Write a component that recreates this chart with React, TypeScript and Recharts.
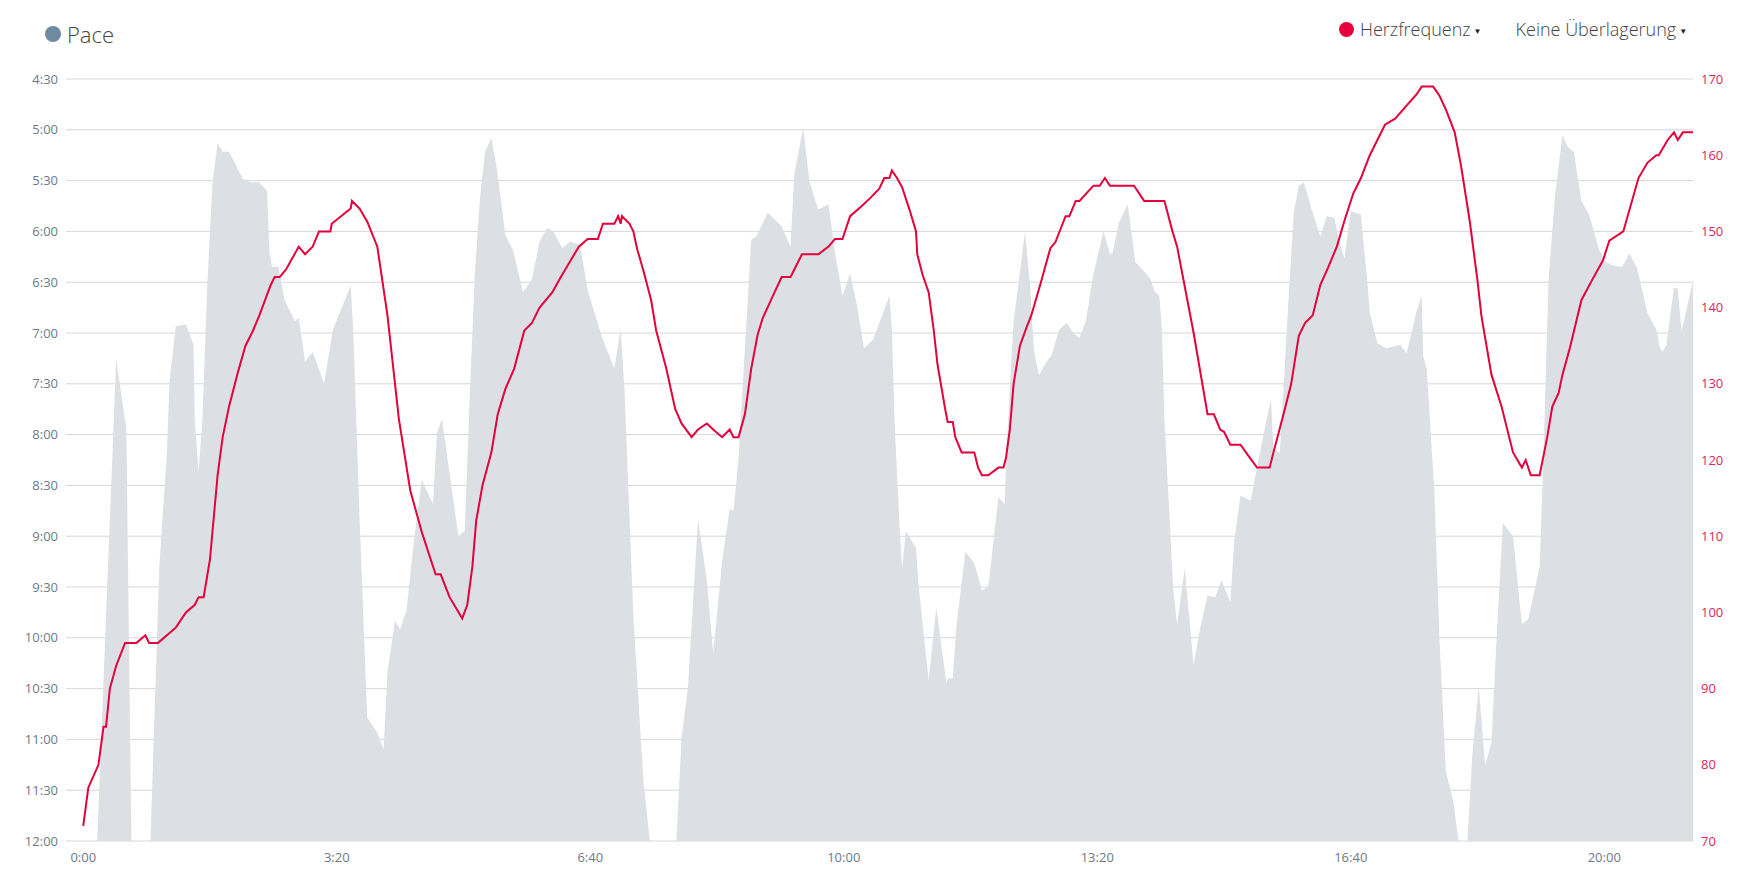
import React from "react";
import {
  ComposedChart,
  Area,
  Line,
  XAxis,
  YAxis,
  CartesianGrid,
} from "recharts";

// Pace (seconds per km) sampled at elapsed seconds
const paceTimes = [
  0, 11, 26, 33, 34, 38, 53, 60, 66, 68, 73, 81, 87, 88, 91, 94, 98, 102, 106, 110, 115, 126, 132, 139, 145, 147, 149, 154, 159, 167, 170, 175, 181, 190, 197, 211, 213, 218, 224, 232, 237, 240, 246, 250, 255, 261, 267, 276, 279, 283, 296, 301, 305, 309, 313, 317,
  322, 326, 333, 339, 347, 354, 360, 366, 371, 378, 384, 392, 398, 410, 419, 424, 427, 434, 442, 447, 468, 472, 477, 485, 492, 497, 504, 510, 513, 517, 521, 527, 531, 540, 551, 558, 561, 568, 573, 580, 588, 593, 599, 605, 610, 616, 623, 636,
  638, 640, 644, 646, 649, 657, 659, 667, 673, 681, 682, 686, 689, 696, 703, 709, 714, 722, 727, 728, 732, 734, 739, 743, 747, 750, 754, 760, 764, 770, 776, 781, 786, 791, 797, 805, 810, 812, 817, 824, 830, 835, 842, 845, 849, 851, 853, 856, 860, 863, 869, 876, 881, 887, 893, 898, 905, 908, 913, 921, 929, 937, 939, 944, 947, 951, 955,
  959, 963, 970, 976, 981, 987, 991, 995, 1000, 1008, 1013, 1015, 1021, 1028, 1039, 1044, 1052, 1056, 1057, 1060, 1066, 1070, 1075, 1081, 1085, 1092, 1096, 1101, 1106, 1111, 1115, 1120, 1128, 1135, 1140, 1149, 1152, 1156, 1161, 1167, 1171, 1176, 1182, 1188, 1196, 1201, 1206, 1214, 1220, 1226, 1234, 1241, 1244, 1246, 1249, 1255, 1258, 1261, 1270,
];
const paceValues = [
  720, 720, 435, 472, 475, 720, 720, 558, 491, 449, 416, 415, 427, 471, 502, 471, 389, 331, 308, 313, 313, 329, 331, 331, 336, 373, 381, 381, 401, 413, 411, 437, 431, 450, 418, 392, 418, 529, 647, 656, 666, 620, 590, 595, 584, 542, 507, 521, 479, 471, 540, 537, 456, 384, 340, 313,
  305, 321, 362, 371, 396, 388, 366, 358, 360, 370, 366, 368, 395, 424, 441, 418, 453, 587, 685, 720, 720, 659, 630, 530, 566, 609, 555, 524, 525, 494, 442, 365, 363, 349, 357, 369, 326, 299, 331, 347, 344, 372, 398, 385, 402, 429, 424, 398,
  418, 471, 534, 559, 537, 547, 569, 625, 582, 627, 624, 624, 592, 549, 556, 572, 570, 517, 521, 497, 439, 413, 384, 360, 392, 430, 445, 437, 433, 418, 414, 420, 423, 413, 385, 360, 373, 373, 355, 344, 378, 382, 388, 395, 398, 418, 471, 514, 572, 592, 559, 616, 595, 575, 576, 566, 579, 543, 516, 519, 488, 459, 488, 491, 452, 398, 349,
  333, 331, 349, 363, 351, 352, 366, 376, 348, 350, 389, 408, 426, 429, 427, 432, 407, 398, 433, 442, 514, 601, 679, 697, 720, 720, 668, 629, 675, 662, 601, 532, 540, 592, 589, 558, 494, 389, 340, 303, 310, 313, 342, 350, 371, 378, 380, 381, 373, 382, 408, 418, 429, 431, 427, 393, 394, 419, 389,
];

// Heart rate (bpm) sampled at elapsed seconds
const hrTimes = [
  0, 4, 12, 16, 18, 21, 26, 33, 42, 49, 52, 59, 73, 81, 88, 91, 95, 100, 106, 110, 115, 122, 128, 134, 139, 148, 151, 155, 160, 170, 175, 181, 186, 195, 196, 211, 212, 218, 224, 232, 240, 249, 258, 267, 274, 278, 282, 289, 294, 299, 303, 307, 310, 315,
  322, 327, 333, 340, 348, 354, 360, 370, 376, 391, 398, 406, 410, 419, 422, 424, 425, 431, 434, 437, 442, 448, 452, 460, 467, 472, 480, 485, 492, 497, 504, 510, 513, 517, 522, 527, 532, 536, 544, 551, 558, 561, 567, 580, 588, 593, 599, 605, 614, 621, 628,
  632, 636, 638, 642, 646, 652, 657, 658, 662, 667, 671, 674, 680, 682, 686, 688, 693, 703, 706, 709, 714, 722, 726, 728, 731, 734, 739, 744, 748, 755, 763, 767, 775, 778, 783, 786, 797, 802, 806, 810, 829, 837, 853, 859, 863, 876, 887, 892, 897, 900, 905, 913, 919, 926, 936, 939, 943, 948, 953,
  959, 964, 970, 976, 982, 989, 995, 1002, 1008, 1015, 1027, 1035, 1044, 1052, 1056, 1065, 1070, 1075, 1082, 1087, 1094, 1100, 1103, 1105, 1111, 1119, 1128, 1135, 1138, 1142, 1149, 1155, 1159, 1164, 1167, 1173, 1182, 1191, 1199, 1204, 1215, 1227, 1234, 1241, 1243, 1250, 1255, 1258, 1262, 1270,
];
const hrValues = [
  72, 77, 80, 85, 85, 90, 93, 96, 96, 97, 96, 96, 98, 100, 101, 102, 102, 107, 118, 123, 127, 131.5, 135, 137, 139, 143, 144, 144, 145, 148, 147, 148, 150, 150, 151, 153, 154, 153, 151.3, 148, 139, 125.4, 116, 110.6, 107, 105, 105, 102, 100.6, 99.2, 101, 106, 112, 116.7,
  121, 126, 129.3, 132, 137, 138, 140, 142, 143.8, 148, 149, 149, 151, 151, 152, 151, 152, 151, 150, 147.7, 144.8, 141, 137, 132, 126.7, 124.8, 123, 124, 124.8, 124, 123, 124, 123, 123, 126, 132, 136.4, 138.6, 141.5, 144, 144, 145, 147, 147, 148, 149, 149, 152, 153.3, 154.4, 155.6,
  157, 157, 158, 157, 155.8, 152.8, 150, 147, 144.4, 142, 137, 132.5, 126.7, 125, 125, 123, 121, 121, 119, 118, 118, 119, 119, 120.3, 124, 130, 135, 137.3, 139, 143, 147.8, 148.6, 152, 152, 154, 154, 156, 156, 157, 156, 156, 154, 154, 150.2, 148, 136.7, 126, 126, 124, 123.7, 122, 122, 120.6, 119, 119, 121, 123.5, 126.7, 130,
  136.3, 138, 139, 143, 145.2, 148, 151.4, 155, 157, 160, 164, 164.8, 166.5, 168, 169, 169, 167.8, 166, 163, 158.6, 151.2, 143.5, 139, 137, 131.2, 127, 121, 119, 120, 118, 118, 123, 127, 128.8, 131.2, 134.8, 141, 143.8, 146.2, 148.8, 150, 157, 159, 160, 160, 162, 163, 162, 163, 163,
];

const timeTicks = [0, 200, 400, 600, 800, 1000, 1200];
const paceTicks = [270, 300, 330, 360, 390, 420, 450, 480, 510, 540, 570, 600, 630, 660, 690, 720];
const hrTicks = [70, 80, 90, 100, 110, 120, 130, 140, 150, 160, 170];

const paceData = paceTimes.map((t, i) => ({ t, pace: paceValues[i] }));
const hrData = hrTimes.map((t, i) => ({ t, hr: hrValues[i] }));

const fmt = (v: number) => {
  const m = Math.floor(v / 60);
  const s = Math.round(v - m * 60);
  return `${m}:${s < 10 ? "0" : ""}${s}`;
};

const FONT = "'Open Sans', 'Noto Sans', sans-serif";

export default function App() {
  return (
    <div
      style={{
        position: "absolute",
        left: 0,
        top: 0,
        width: 1739,
        height: 875,
        background: "#fff",
        fontFamily: FONT,
        overflow: "hidden",
      }}
    >
      {/* Left legend */}
      <div style={{ position: "absolute", left: 45, top: 16, display: "flex", alignItems: "center" }}>
        <span style={{ display: "inline-block", width: 16, height: 16, borderRadius: 8, background: "#6e8aa0" }} />
        <span style={{ marginLeft: 6, fontSize: 22, fontWeight: 300, color: "#444", lineHeight: "36px" }}>Pace</span>
      </div>
      {/* Right legend */}
      <div style={{ position: "absolute", left: 1339, top: 14, display: "flex", alignItems: "center" }}>
        <span style={{ display: "inline-block", width: 15, height: 15, borderRadius: 8, background: "#e8003d" }} />
        <span style={{ marginLeft: 6, fontSize: 18, fontWeight: 300, color: "#444", lineHeight: "30px" }}>Herzfrequenz</span>
        <span style={{ marginLeft: 3, fontSize: 8, color: "#222", position: "relative", top: 1 }}>▼</span>
        <span style={{ marginLeft: 34, fontSize: 18, fontWeight: 300, color: "#444", lineHeight: "30px" }}>Keine Überlagerung</span>
        <span style={{ marginLeft: 3, fontSize: 8, color: "#222", position: "relative", top: 1 }}>▼</span>
      </div>
      <div style={{ position: "absolute", left: 0, top: 0 }}>
        <ComposedChart width={1739} height={875} margin={{ top: 79, right: 0, bottom: 0, left: 0 }}>
          <CartesianGrid vertical={false} yAxisId="pace" stroke="#d3d7db" strokeWidth={1} />
          <XAxis
            type="number"
            dataKey="t"
            domain={[-13.6, 1270]}
            allowDataOverflow
            ticks={timeTicks}
            tickFormatter={fmt}
            height={34}
            axisLine={false}
            tickLine={false}
            tickMargin={6}
            interval={0}
            tick={{ fill: "#6c7a89", fontSize: 13, fontFamily: FONT }}
          />
          <YAxis
            yAxisId="pace"
            orientation="left"
            type="number"
            reversed
            domain={[270, 720]}
            ticks={paceTicks}
            tickFormatter={fmt}
            width={66}
            axisLine={false}
            tickLine={false}
            interval={0}
            tick={{ fill: "#6c7a89", fontSize: 13, fontFamily: FONT }}
          />
          <YAxis
            yAxisId="hr"
            orientation="right"
            type="number"
            domain={[70, 170]}
            ticks={hrTicks}
            width={46}
            axisLine={false}
            tickLine={false}
            interval={0}
            tick={{ fill: "#e0245e", fontSize: 13, fontFamily: FONT }}
          />
          <Area
            yAxisId="pace"
            data={paceData}
            dataKey="pace"
            type="linear"
            baseValue={720}
            fill="#dce0e4"
            fillOpacity={1}
            stroke="none"
            dot={false}
            activeDot={false}
            isAnimationActive={false}
          />
          <Line
            yAxisId="hr"
            data={hrData}
            dataKey="hr"
            type="linear"
            stroke="#e4003b"
            strokeWidth={2}
            dot={false}
            activeDot={false}
            isAnimationActive={false}
          />
        </ComposedChart>
      </div>
    </div>
  );
}
